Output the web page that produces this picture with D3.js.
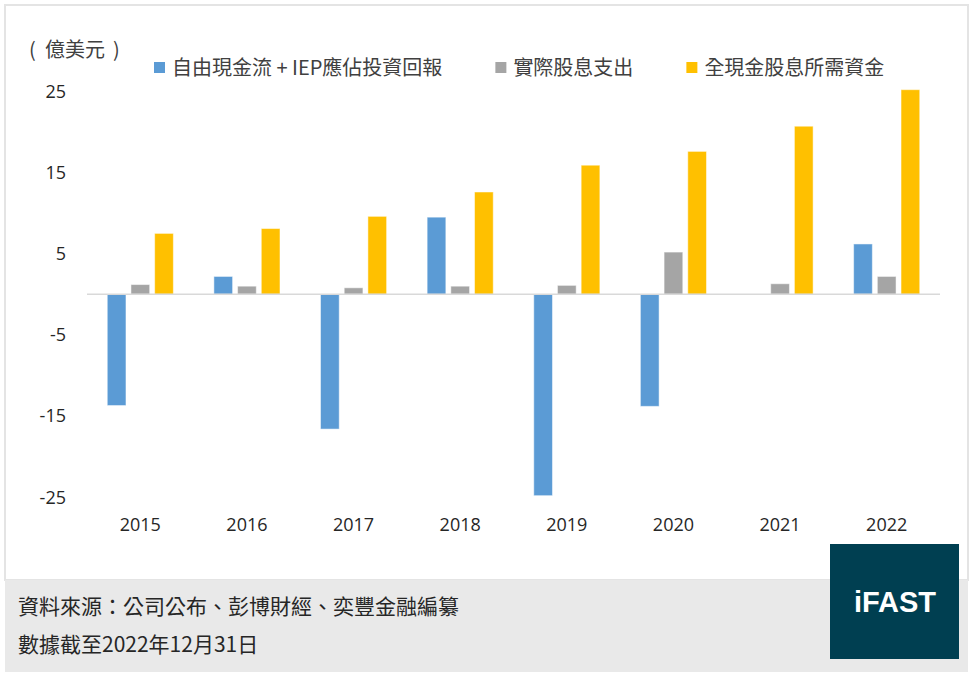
<!DOCTYPE html>
<html>
<head>
<meta charset="utf-8">
<script src="https://cdn.jsdelivr.net/npm/d3@7"></script>
<style>
  body { margin: 0; background: #fff; }
  text { font-family: "Open Sans", "Noto Sans CJK TC", sans-serif; }
  .cjk { font-family: "Noto Sans CJK TC", "Noto Sans", sans-serif; }
  .logo { font-family: "Liberation Sans", Arial, sans-serif; font-weight: bold; }
</style>
</head>
<body>
<div id="chart"></div>
<script>
// data, in 億美元
const years = ["2015", "2016", "2017", "2018", "2019", "2020", "2021", "2022"];
const seriesNames = ["自由現金流 + IEP應佔投資回報", "實際股息支出", "全現金股息所需資金"];
const freeCashFlow = [-13.7, 2.2, -16.6, 9.5, -24.8, -13.8, null, 6.2];
const dividendPaid = [1.2, 1.0, 0.8, 1.0, 1.1, 5.2, 1.3, 2.2];
const cashNeeded = [7.5, 8.1, 9.6, 12.6, 15.9, 17.6, 20.7, 25.2];
const yTicks = [25, 15, 5, -5, -15, -25];

const colors = ["#5B9BD5", "#A5A5A5", "#FFC000"];
const seriesValues = [freeCashFlow, dividendPaid, cashNeeded];

const width = 976;
const height = 680;

const svg = d3.select("#chart")
  .append("svg")
  .attr("width", width)
  .attr("height", height);

// panel + footer
svg.append("rect")
  .attr("x", 5).attr("y", 5)
  .attr("width", 963).attr("height", 575)
  .attr("fill", "#fff")
  .attr("stroke", "#e4e4e4")
  .attr("stroke-width", 2);

svg.append("rect")
  .attr("x", 5).attr("y", 580)
  .attr("width", 963).attr("height", 92)
  .attr("fill", "#e9e9e9");

let x0 = d3.scaleBand()
  .domain(years)
  .range([87, 940])
  .paddingInner(0.38)
  .paddingOuter(0.19);

let x1 = d3.scaleBand()
  .domain(d3.range(seriesNames.length))
  .range([0, x0.bandwidth()])
  .paddingInner(0.21);

let y = d3.scaleLinear()
  .domain([-25, 25])
  .range([497.3, 91.3]);

// bars
let rows = years.map((yr, i) => ({
  year: yr,
  values: seriesValues.map((s, k) => ({ k: k, v: s[i] }))
}));

let groups = svg.append("g")
  .selectAll("g")
  .data(rows)
  .enter()
  .append("g")
  .attr("transform", d => `translate(${x0(d.year)},0)`);

groups.selectAll("rect")
  .data(d => d.values.filter(e => e.v !== null))
  .enter()
  .append("rect")
  .attr("x", d => x1(d.k))
  .attr("width", x1.bandwidth())
  .attr("y", d => y(Math.max(0, d.v)))
  .attr("height", d => Math.abs(y(d.v) - y(0)))
  .attr("fill", d => colors[d.k])
  .attr("stroke", "#fff")
  .attr("stroke-opacity", 0.5)
  .attr("stroke-width", 1);

// zero line
svg.append("line")
  .attr("x1", 87).attr("x2", 940)
  .attr("y1", y(0)).attr("y2", y(0))
  .attr("stroke", "#d9d9d9")
  .attr("stroke-width", 1.5);

// y axis labels (plain hyphen like the original)
svg.append("g")
  .attr("transform", "translate(66,0)")
  .call(d3.axisLeft(y).tickValues(yTicks).tickFormat(d => String(d)).tickSize(0).tickPadding(0))
  .call(g => g.select(".domain").remove())
  .call(g => g.selectAll("text")
    .style("font-family", "Open Sans")
    .style("font-size", "18px")
    .attr("fill", "#262626"));

// x axis labels
svg.append("g")
  .attr("transform", "translate(0,518)")
  .call(d3.axisBottom(x0).tickSize(0).tickPadding(0))
  .call(g => g.select(".domain").remove())
  .call(g => g.selectAll("text")
    .style("font-family", "Open Sans")
    .style("font-size", "18px")
    .attr("fill", "#262626"));

// unit label
let unit = svg.append("text")
  .attr("class", "cjk")
  .attr("y", 57)
  .attr("font-size", 20)
  .attr("fill", "#404040");
unit.append("tspan").attr("x", 29).text("(");
unit.append("tspan").attr("x", 45).text("億美元");
unit.append("tspan").attr("x", 113).text(")");

// legend
let legend_x = 154;
let legend_gap = 53;
seriesNames.forEach((name, k) => {
  let item = svg.append("g").attr("transform", `translate(${legend_x},68)`);
  item.append("rect")
    .attr("x", 0).attr("y", -6)
    .attr("width", 11).attr("height", 11)
    .attr("fill", colors[k]);
  let t = item.append("text")
    .attr("class", "cjk")
    .attr("x", 18)
    .attr("y", 7)
    .attr("font-size", 20)
    .attr("fill", "#404040")
    .text(name);
  legend_x += 18 + t.node().getComputedTextLength() + legend_gap;
});

// footer text
svg.append("text")
  .attr("class", "cjk")
  .attr("x", 18).attr("y", 614)
  .attr("font-size", 21)
  .attr("fill", "#262626")
  .text("資料來源：公司公布、彭博財經、奕豐金融編纂");

svg.append("text")
  .attr("class", "cjk")
  .attr("x", 18).attr("y", 652)
  .attr("font-size", 21)
  .attr("fill", "#262626")
  .text("數據截至2022年12月31日");

// logo
svg.append("rect")
  .attr("x", 830).attr("y", 544)
  .attr("width", 129).attr("height", 115)
  .attr("fill", "#003f51");

svg.append("text")
  .attr("class", "logo")
  .attr("x", 895).attr("y", 612)
  .attr("text-anchor", "middle")
  .attr("font-size", 29)
  .attr("fill", "#fff")
  .text("iFAST");
</script>
</body>
</html>
